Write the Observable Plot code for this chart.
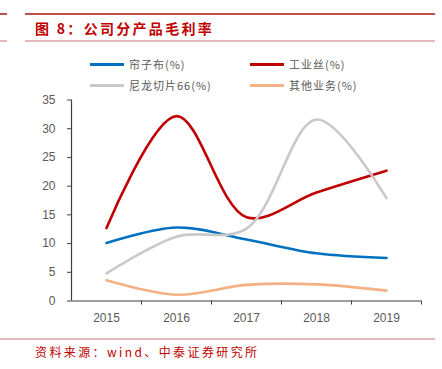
<!DOCTYPE html>
<html><head><meta charset="utf-8">
<script src="https://cdn.jsdelivr.net/npm/d3@7"></script>
<script src="https://cdn.jsdelivr.net/npm/@observablehq/plot@0.6"></script>
<style>
body{margin:0;width:442px;height:369px;position:relative;background:#fff;overflow:hidden;font-family:"Noto Sans CJK SC","Noto Sans",sans-serif;}
.hl{position:absolute;}
#title{position:absolute;left:35px;top:18px;font-size:14px;font-weight:bold;color:#c00000;letter-spacing:2.3px;line-height:20px;white-space:nowrap;}
#source{position:absolute;left:35px;top:343px;font-size:12px;color:#c00000;letter-spacing:2.4px;line-height:18px;white-space:nowrap;}
.leg{position:absolute;display:flex;align-items:center;font-size:11px;color:#595959;white-space:nowrap;height:16px;letter-spacing:1px;z-index:2;}
.leg span.sw{display:inline-block;width:34px;height:3px;margin-right:5px;}
#chart{position:absolute;left:0;top:85px;}
</style></head>
<body>
<div class="hl" style="left:0;top:13px;width:7px;height:2px;background:#c0504d"></div>
<div class="hl" style="left:25px;top:13px;width:410px;height:2px;background:#c0504d"></div>
<div id="title">图 8：公司分产品毛利率</div>
<div class="hl" style="left:0;top:40px;width:7px;height:2px;background:#e6b8b7"></div>
<div class="hl" style="left:25px;top:40px;width:410px;height:2px;background:#e6b8b7"></div>
<div id="chart"></div>
<div id="legend"></div>
<div class="hl" style="left:0;top:338px;width:435px;height:2px;background:#e6b8b7"></div>
<div id="source">资料来源：wind、中泰证券研究所</div>
<script>
const years = [2015, 2016, 2017, 2018, 2019];
const seriesNames = ["帘子布(%)", "工业丝(%)", "尼龙切片66(%)", "其他业务(%)"];
const seriesColors = ["#0070c0", "#c00000", "#c9c9c9", "#f4b183"];
const cordFabric = [10.1, 12.8, 10.7, 8.3, 7.5];
const industrialYarn = [12.7, 32.2, 14.6, 18.9, 22.7];
const nylon66 = [4.8, 11.2, 12.6, 31.6, 17.9];
const otherBiz = [3.6, 1.1, 2.8, 2.9, 1.8];
const yTicks = [0, 5, 10, 15, 20, 25, 30, 35];

const allSeries = [cordFabric, industrialYarn, nylon66, otherBiz];
const data = [];
allSeries.forEach((vals, i) => vals.forEach((v, j) => data.push({series: seriesNames[i], year: years[j], value: v})));

// legend
const legPos = [[90, 56], [250, 56], [90, 77], [250, 77]];
const legend = document.getElementById("legend");
seriesNames.forEach((n, i) => {
  const d = document.createElement("div");
  d.className = "leg";
  d.style.left = legPos[i][0] + "px";
  d.style.top = legPos[i][1] + "px";
  d.innerHTML = `<span class="sw" style="background:${seriesColors[i]}"></span>${n}`;
  legend.appendChild(d);
});

const bounds = years.map(y => y + 0.5);
const xMin = years[0] - 0.5;

const plot = Plot.plot({
  width: 442,
  height: 245,
  marginLeft: 71,
  marginRight: 21,
  marginTop: 14.5,
  marginBottom: 29.5,
  style: {fontFamily: "'Liberation Sans', Arial, sans-serif", fontSize: "12px", color: "#595959", background: "transparent"},
  x: {domain: [xMin, years[years.length - 1] + 0.5]},
  y: {domain: [0, 35]},
  color: {domain: seriesNames, range: seriesColors},
  marks: [
    Plot.axisY({ticks: yTicks, tickSize: 4, tickPadding: 12, label: null, stroke: "#404040", fill: "#595959"}),
    Plot.axisX({ticks: years, tickSize: 0, tickPadding: 12, tickFormat: d => String(d), label: null, fill: "#595959"}),
    Plot.axisX({ticks: bounds, tickSize: 4, tickFormat: () => "", label: null, stroke: "#404040"}),
    Plot.ruleX([xMin], {stroke: "#404040", strokeWidth: 1.2}),
    Plot.ruleY([0], {stroke: "#404040", strokeWidth: 1.2}),
    Plot.line(data, {x: "year", y: "value", z: "series", stroke: "series", strokeWidth: 2.6, curve: "catmull-rom"})
  ]
});
document.getElementById("chart").appendChild(plot);
</script>
</body></html>
